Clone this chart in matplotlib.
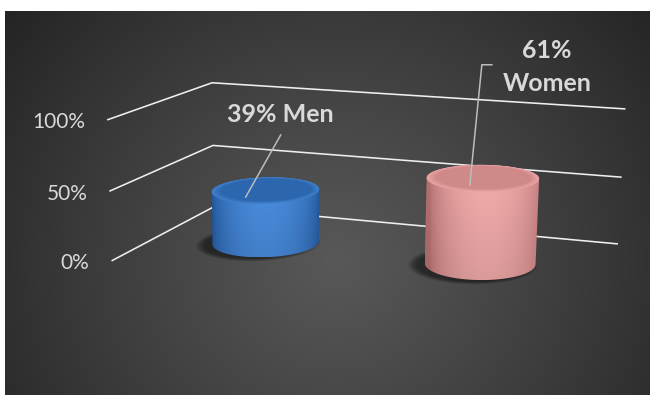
import numpy as np
import matplotlib
matplotlib.use("Agg")
import matplotlib.pyplot as plt
from matplotlib.patches import Polygon

# ---------------- data ----------------
categories = ["Men", "Women"]
shares = [39, 61]                      # percent
yticks = [0, 50, 100]
ytick_labels = ["0%", "50%", "100%"]
ymax = 100

# ---------------- style / layout ----------------
W, H = 650, 395
bar_colors = {
    "Men":   dict(edge="#22569a", hi="#4a8ee0", top="#2c66ae", rim="#3f80cc", shift=0.0),
    "Women": dict(edge="#b57171", hi="#f4acac", top="#d08989", rim="#eba4a4", shift=0.08),
}
label_sep = [" ", "\n"]
label_offsets = [(15, -76), (64, -111)]      # px from projected top centre
leader_ends = [(-20, 7), (-13, 7)]           # px from projected top centre
text_col = "#d9d9d9"
grid_col = "#efefef"
lead_col = "#bdbdbd"

# frame calibration of the 3-D box (world X,D,Z -> pixel), used to build the camera
FRAME_WORLD = [(0, 0, 0), (0, 0, .5), (0, 0, 1),
               (0, 1, 0), (0, 1, .5), (0, 1, 1),
               (1, 1, 0), (1, 1, .5), (1, 1, 1)]
FRAME_PIX = [(113, 261), (109, 191), (106, 120),
             (212, 207), (214, 145), (213, 83),
             (618, 244), (622, 177), (625, 109)]

cat_pos = [0.25, 0.75]      # position along floor
depth_pos = 0.5
rx, rd = 0.118, 0.25        # cylinder radius in X units and D units


def fit_camera(world, pix):
    A, b = [], []
    for (X, D, Z), (u, v) in zip(world, pix):
        A.append([X, D, Z, 1, 0, 0, 0, 0, -u * X, -u * D, -u * Z]); b.append(u)
        A.append([0, 0, 0, 0, X, D, Z, 1, -v * X, -v * D, -v * Z]); b.append(v)
    p = np.linalg.lstsq(np.array(A, float), np.array(b, float), rcond=None)[0]
    return np.append(p, 1.0).reshape(3, 4)


P = fit_camera(FRAME_WORLD, FRAME_PIX)


def proj(X, D, Z):
    X, D, Z = np.broadcast_arrays(np.asarray(X, float), np.asarray(D, float), np.asarray(Z, float))
    h = np.tensordot(P, np.stack([X, D, Z, np.ones_like(X)]), axes=1)
    return h[0] / h[2], h[1] / h[2]


def convex_hull(pts):
    pts = sorted(map(tuple, pts))

    def cross(o, a, b):
        return (a[0] - o[0]) * (b[1] - o[1]) - (a[1] - o[1]) * (b[0] - o[0])

    lower, upper = [], []
    for p in pts:
        while len(lower) >= 2 and cross(lower[-2], lower[-1], p) <= 0:
            lower.pop()
        lower.append(p)
    for p in reversed(pts):
        while len(upper) >= 2 and cross(upper[-2], upper[-1], p) <= 0:
            upper.pop()
        upper.append(p)
    return np.array(lower[:-1] + upper[:-1])


def hex2rgb(c):
    c = c.lstrip("#")
    return np.array([int(c[i:i + 2], 16) / 255 for i in (0, 2, 4)])


def mix(a, b, f):
    return tuple(np.clip(hex2rgb(a) * (1 - f) + hex2rgb(b) * f, 0, 1))


fig = plt.figure(figsize=(W / 100, H / 100), dpi=100, facecolor="white")
ax = fig.add_axes([0, 0, 1, 1])
ax.axis("off")

# background radial gradient
bx0, by0 = 5, 11
yy, xx = np.mgrid[by0:H, bx0:W]
d = np.hypot(xx - 335, (yy - 260) * 1.05) / 420
d = np.clip(d, 0, 1) ** 1.1
inner, outer = hex2rgb("#585858"), hex2rgb("#242424")
img = inner[None, None, :] * (1 - d[..., None]) + outer[None, None, :] * d[..., None]
ax.imshow(img, extent=(bx0, W, H, by0), zorder=0, interpolation="bilinear", aspect="auto")

# gridlines on walls + tick labels
for v, lab in zip(yticks, ytick_labels):
    z = v / ymax
    xs, ys = proj([0, 0, 1], [0, 1, 1], [z, z, z])
    ax.plot(xs, ys, color=grid_col, lw=1.15, solid_capstyle="butt", zorder=2)
    ax.text(xs[0] - 22, ys[0] + 2.5, lab, ha="right", va="center", fontsize=15,
            family="Lato", color=text_col, zorder=6)

# cylinders
t = np.linspace(0, 2 * np.pi, 361)
for i, (cat, val) in enumerate(zip(categories, shares)):
    cc = bar_colors[cat]
    xc, dc, z = cat_pos[i], depth_pos, val / ymax
    # soft shadow on the floor
    for s in np.linspace(1.16, 1.0, 8):
        sx, sy = proj(xc - 0.012 + rx * s * np.cos(t), dc - 0.03 + rd * s * np.sin(t), 0)
        ax.add_patch(Polygon(np.c_[sx, sy], closed=True, fc="black", ec="none",
                             alpha=0.07, zorder=3))
    # body silhouette = convex hull of bottom and top circles
    bxs, bys = proj(xc + rx * np.cos(t), dc + rd * np.sin(t), 0)
    txs, tys = proj(xc + rx * np.cos(t), dc + rd * np.sin(t), z)
    body = convex_hull(np.r_[np.c_[bxs, bys], np.c_[txs, tys]])
    x0, x1 = body[:, 0].min(), body[:, 0].max()
    y0, y1 = body[:, 1].min(), body[:, 1].max()
    u = np.linspace(-1, 1, 300)
    f = np.sqrt(np.clip(1 - (u - cc["shift"]) ** 2, 0, 1)) ** 1.3
    colrow = np.array([mix(cc["edge"], cc["hi"], fi) for fi in f])
    vv = np.linspace(0, 1, 60)[:, None, None]
    grad = colrow[None, :, :] * (1 - 0.10 * vv)
    im = ax.imshow(grad, extent=(x0, x1, y1, y0), zorder=4, interpolation="bilinear",
                   aspect="auto")
    clip = Polygon(body, closed=True, transform=ax.transData)
    im.set_clip_path(clip)
    # top with bevel rim
    for k, s in enumerate(np.linspace(1.0, 0.84, 9)):
        fk = k / 8
        sx, sy = proj(xc + rx * s * np.cos(t), dc + 0.01 * fk + rd * s * np.sin(t), z)
        ax.add_patch(Polygon(np.c_[sx, sy], closed=True, fc=mix(cc["rim"], cc["top"], fk),
                             ec="none", zorder=5))
    # label + leader
    cx, cy = proj(xc, dc, z)
    cx, cy = float(cx), float(cy)
    ox, oy = label_offsets[i]
    ex, ey = cx + leader_ends[i][0], cy + leader_ends[i][1]
    txt = f"{val}%{label_sep[i]}{cat}"
    ax.text(cx + ox, cy + oy, txt, ha="center", va="center", fontsize=18, family="Lato",
            fontweight="bold", color=text_col, linespacing=1.55, zorder=7)
    if i == 0:
        ax.plot([cx + ox, ex], [cy + oy + 21, ey], color=lead_col, lw=1.1, zorder=6)
    else:
        lx = cx + ox - 65
        ax.plot([lx + 10, lx, ex], [cy + oy - 2, cy + oy - 2, ey], color=lead_col, lw=1.1, zorder=6)

ax.set_xlim(0, W)
ax.set_ylim(H, 0)
fig.savefig("out.png", dpi=100, facecolor="white")
